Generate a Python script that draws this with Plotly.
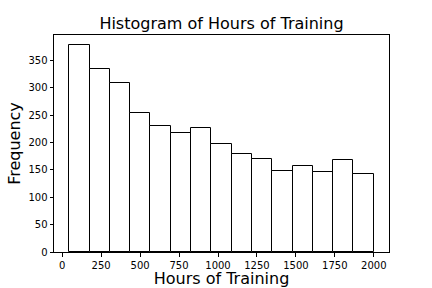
import plotly.graph_objects as go

# Data
bin_start = 45.0
bin_end = 2000.0
counts = [378, 334, 310, 255, 231, 218, 226, 198, 179, 170, 149, 157, 146, 168, 142]
x_tick_vals = [0, 250, 500, 750, 1000, 1250, 1500, 1750, 2000]
y_tick_vals = [0, 50, 100, 150, 200, 250, 300, 350]

n_bins = len(counts)
bin_width = (bin_end - bin_start) / n_bins
centers = [bin_start + bin_width * (i + 0.5) for i in range(n_bins)]

span = bin_end - bin_start
x_range = [bin_start - 0.05 * span, bin_end + 0.05 * span]
y_range = [0, max(counts) * 1.05]

fig = go.Figure(
    go.Bar(
        x=centers,
        y=counts,
        width=[bin_width] * n_bins,
        marker=dict(color="white", line=dict(color="black", width=1)),
        hoverinfo="skip",
    )
)

font = "DejaVu Sans"
axis_common = dict(
    showgrid=False,
    zeroline=False,
    showline=True,
    linecolor="black",
    linewidth=1,
    mirror=True,
    ticks="outside",
    ticklen=3.5,
    tickwidth=1,
    tickcolor="black",
    automargin=False,
    tickfont=dict(family=font, size=10, color="black"),
)

fig.update_layout(
    width=432,
    height=288,
    margin=dict(l=54, r=43, t=35, b=36, autoexpand=False),
    paper_bgcolor="white",
    plot_bgcolor="white",
    bargap=0,
    showlegend=False,
    title=dict(
        text="Histogram of Hours of Training",
        font=dict(family=font, size=16, color="black"),
        x=0.5,
        xanchor="center",
        xref="paper",
        y=1 - 23 / 288,
        yanchor="middle",
        automargin=False,
    ),
    xaxis=dict(
        range=x_range,
        tickvals=x_tick_vals,
        title=dict(text="Hours of Training", font=dict(family=font, size=16, color="black"), standoff=2),
        **axis_common,
    ),
    yaxis=dict(
        range=y_range,
        tickvals=y_tick_vals,
        title=dict(text="Frequency", font=dict(family=font, size=16, color="black"), standoff=3),
        **axis_common,
    ),
)

fig.write_html(
    "out.html",
    config={"displayModeBar": False},
    post_script="document.body.style.margin='0';document.body.style.overflow='hidden';",
)
